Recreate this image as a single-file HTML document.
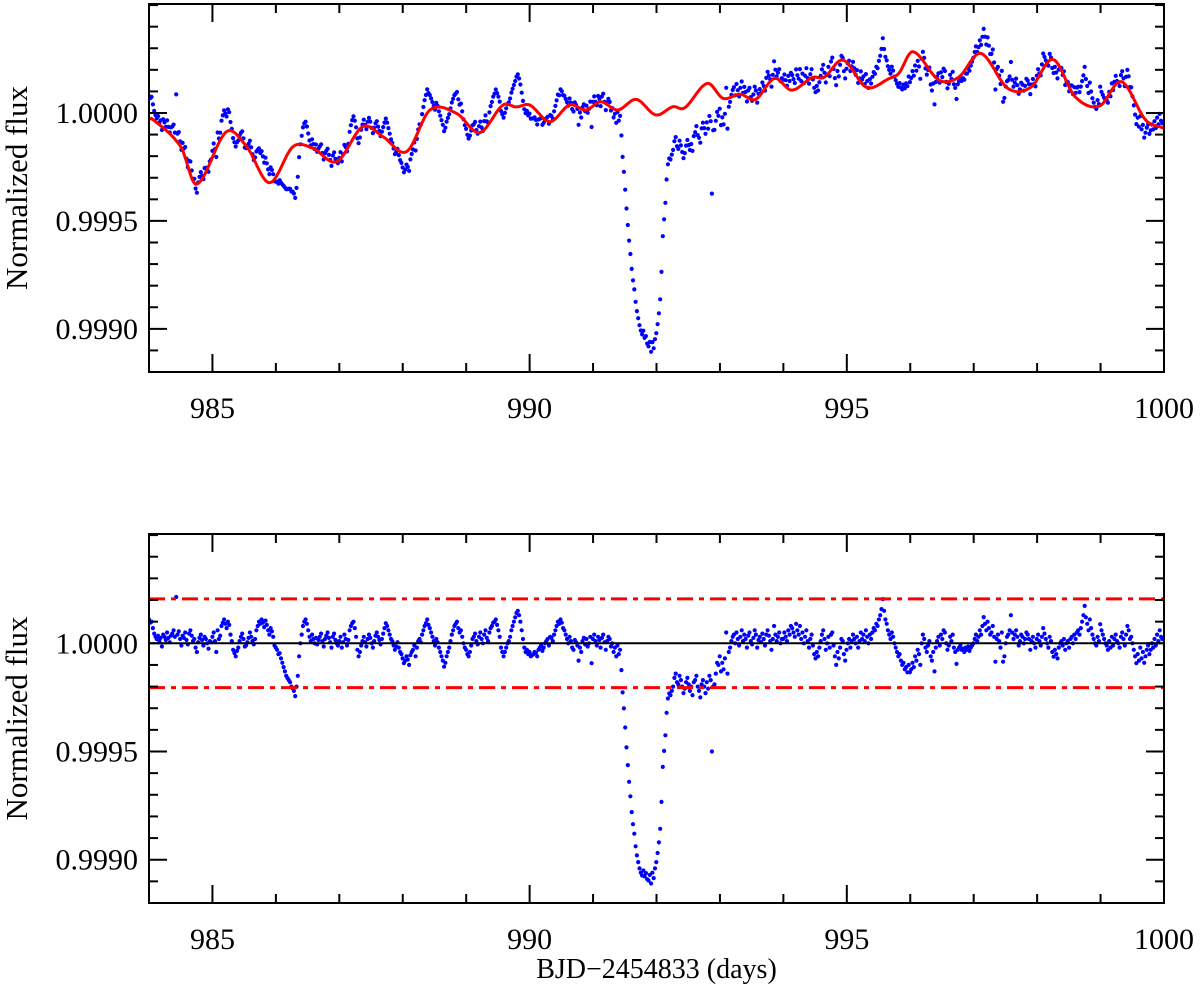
<!DOCTYPE html>
<html><head><meta charset="utf-8">
<style>
html,body{margin:0;padding:0;background:#fff;}
svg{display:block;}
text{font-family:"Liberation Serif",serif;fill:#000;}
</style></head>
<body>
<svg id="chart" width="1200" height="989" viewBox="0 0 1200 989" xmlns="http://www.w3.org/2000/svg">
<g id="top"></g>
<g id="bot"></g>
</svg>
<script>
// ---- data ----
const startDay = 984.0;
const cadence = 0.0204;
// residual flux in ppm (relative to 1.0), one value per cadence
const residualPpm = [
110,95,100,70,45,30,20,35,10,25,-15,40,30,15,50,25,5,35,45,60,30,214,40,55,20,-10,35,25,50,15,-5,45,60,35,10,20,-20,-40,5,25,40,15,-10,30,20,0,-25,10,5,
30,50,10,-40,60,20,35,80,95,110,90,70,100,85,40,10,-30,-45,-60,-35,-20,10,30,45,20,-15,-10,5,25,50,30,10,-5,20,60,80,100,90,110,95,75,105,85,60,40,70,55,30,-10,
-20,-30,-50,-46,-70,-90,-110,-130,-150,-161,-170,-180,-200,-207,-220,-244,-200,-150,-60,0,40,80,100,110,90,60,30,10,40,20,0,25,-5,15,30,45,10,-15,20,35,50,25,5,-20,30,45,15,0,-10,
10,30,-20,5,40,20,-10,15,60,80,93,100,70,30,-30,-60,-40,-10,10,30,5,-15,20,40,25,0,-20,10,35,50,30,15,-5,20,45,70,93,80,60,40,20,10,-10,-30,-15,5,-20,-40,-50,
-70,-92,-80,-60,-75,-100,-55,-40,-30,-10,-60,-20,10,20,5,40,60,80,93,110,85,70,50,30,10,-10,20,5,-20,-40,-60,-80,-108,-90,-60,-40,-20,10,40,60,80,90,100,70,50,60,30,0,-20,
-30,-50,-60,-40,-10,20,30,45,10,-5,30,50,20,0,40,60,25,10,50,70,80,95,100,110,85,60,30,-20,-40,-60,-40,-20,0,10,30,60,80,100,120,140,150,130,100,60,20,-20,-40,-30,-50,
-40,-60,-55,-50,-40,-45,-60,-30,-20,-10,-35,-20,0,10,20,-10,30,25,10,40,60,80,100,90,110,95,70,60,40,20,0,30,10,-20,-30,15,5,-10,-80,-20,-40,10,25,-5,20,-15,0,30,-92,
20,40,10,-10,30,15,-20,25,40,5,-30,10,30,20,-15,0,-40,-20,-60,-10,-50,-30,-124,-227,-301,-389,-481,-563,-640,-707,-780,-836,-880,-938,-980,-1011,-1040,-1060,-1073,-1050,-1077,-1062,-1090,-1096,-1070,-1110,-1060,-1085,-1040,
-1011,-969,-920,-857,-733,-571,-497,-425,-321,-255,-232,-240,-220,-200,-160,-140,-180,-190,-150,-170,-200,-230,-210,-180,-160,-190,-220,-200,-240,-180,-170,-150,-200,-220,-250,-190,-170,-200,-230,-180,-210,-150,-170,-500,-200,-190,-140,-90,-100,
-60,-130,-90,-120,-70,50,-140,-40,-20,10,30,40,0,50,20,-10,30,60,10,40,20,-20,35,50,10,-5,25,60,40,-20,15,30,5,45,20,-10,40,60,35,10,-30,20,80,40,10,30,50,0,20,
20,50,30,10,60,40,80,70,50,30,90,60,40,80,20,50,0,30,60,10,-20,20,40,-10,-50,-70,-40,-60,-20,10,40,60,20,-30,0,30,-20,40,50,-10,-60,-100,-40,-70,-20,20,10,-50,-80,
-30,0,20,-20,10,40,20,0,30,-20,10,50,20,40,10,60,30,0,40,20,50,70,60,90,80,110,130,158,204,150,110,90,60,40,20,50,30,0,-20,-40,-60,-50,-80,-100,-90,-120,-110,-134,-100,
-134,-120,-90,-110,-60,-80,-30,-50,-100,0,40,20,-20,-40,-10,10,-60,-80,-40,-130,-20,10,30,-10,40,20,60,50,0,-30,-10,30,10,40,-20,-40,-95,-30,-20,-10,-30,-25,-40,-20,-30,-15,-35,-20,-10,
0,20,40,10,30,60,40,80,121,90,60,100,70,40,50,80,30,-85,20,40,10,-20,50,-85,-60,0,30,40,60,130,50,20,40,60,30,-10,10,40,30,0,20,50,40,20,-30,10,30,0,-20,
20,40,10,-10,30,70,45,20,0,-20,30,10,-40,-62,-30,-50,-70,-20,0,10,-10,20,-30,0,10,-20,20,30,0,40,20,50,60,40,70,100,130,173,120,90,60,110,70,40,20,0,-10,30,10,
88,60,40,20,0,-10,-30,10,-20,30,-10,20,40,10,0,-20,30,50,20,-10,40,80,60,20,30,0,-30,-60,-92,-50,-80,-20,-70,-40,-90,-60,-30,-10,-50,-30,0,-20,20,-10,40,10,60,30,20
];
// stellar-variability model (red curve) knots
const modelDays = [984.0,984.04,984.5,984.75,985.22,985.54,985.9,986.27,986.58,986.96,987.37,987.69,988.06,988.43,988.85,989.21,989.58,989.79,990.0,990.32,990.63,990.89,991.12,991.39,991.68,991.99,992.26,992.44,992.8,993.05,993.32,993.56,993.86,994.13,994.46,994.64,994.94,995.31,995.67,995.82,996.04,996.45,996.76,997.11,997.54,997.9,998.25,998.6,998.98,999.33,999.71,1000.0];
const modelPpm = [-32,-25,-156,-330,-87,-156,-323,-156,-163,-225,-63,-110,-179,14,-2,-91,37,28,37,-40,37,14,52,14,63,-9,29,23,137,68,87,63,160,106,165,165,245,119,160,184,284,153,165,276,114,119,248,75,32,145,-32,-71];
const thresholdPpm = [205,-205];
const xTicksMajor = [985,990,995,1000];
const xTickLabels = ["985","990","995","1000"];
const yTicksMajor = [-1000,-500,0];
const yTickLabels = ["0.9990","0.9995","1.0000"];

// ---- layout ----
const NS="http://www.w3.org/2000/svg";
const X0=149,X1=1164,D0=984,D1=1000;
const P0=505,P1=-1200;
const panels=[{g:document.getElementById('top'),y0:4,y1:372,name:'top'},{g:document.getElementById('bot'),y0:534,y1:903,name:'bottom'}];
function xs(d){return X0+(d-D0)/(D1-D0)*(X1-X0);}
function mk(tag,attrs,parent){const e=document.createElementNS(NS,tag);for(const k in attrs)e.setAttribute(k,attrs[k]);parent.appendChild(e);return e;}
function modelAt(t){
  const n=modelDays.length;
  let i=0;while(i<n-2&&t>modelDays[i+1])i++;
  const x0=modelDays[i],x1=modelDays[i+1],y0=modelPpm[i],y1=modelPpm[i+1];
  const tan=j=>{const a=Math.max(0,j-1),b=Math.min(n-1,j+1);return (modelPpm[b]-modelPpm[a])/(modelDays[b]-modelDays[a]);};
  const h=x1-x0,s=(t-x0)/h,m0=tan(i)*h,m1=tan(i+1)*h;
  const s2=s*s,s3=s2*s;
  return (2*s3-3*s2+1)*y0+(s3-2*s2+s)*m0+(-2*s3+3*s2)*y1+(s3-s2)*m1;
}
const days=residualPpm.map((_,i)=>startDay+i*cadence);

panels.forEach((p,pi)=>{
  const ys=v=>p.y0+(P0-v)/(P0-P1)*(p.y1-p.y0);
  const g=p.g;
  const cp=mk('clipPath',{id:'clip'+pi},g);mk('rect',{x:X0,y:p.y0,width:X1-X0,height:p.y1-p.y0},cp);
  const plot=mk('g',{'clip-path':'url(#clip'+pi+')'},g);
  
  
  const pts=mk('g',{fill:'#0000ff'},plot);
  
  
  days.forEach((d,i)=>{
    const v=pi===0?modelAt(d)+residualPpm[i]:residualPpm[i];
    const c=mk('circle',{cx:xs(d).toFixed(1),cy:ys(v).toFixed(1),r:2.1},pts);
    
    
  });
  if(pi===0){
    let dstr='';
    for(let k=0;k<=800;k++){const t=D0+k*(D1-D0)/800;dstr+=(k?'L':'M')+xs(t).toFixed(1)+','+ys(modelAt(t)).toFixed(1);}
    const ml=mk('path',{d:dstr,fill:'none',stroke:'#ff0000','stroke-width':3},plot);
    
    
  } else {
    const zl=mk('line',{x1:X0,x2:X1,y1:ys(0),y2:ys(0),stroke:'#000','stroke-width':2},plot);
    
    
    thresholdPpm.forEach(v=>{
      const tl=mk('line',{x1:X0,x2:X1,y1:ys(v),y2:ys(v),stroke:'#ff0000','stroke-width':3,'stroke-dasharray':'16 6 5 6'},plot);
      
      
    });
  }
  const fr=mk('rect',{x:X0,y:p.y0,width:X1-X0,height:p.y1-p.y0,fill:'none',stroke:'#000','stroke-width':2},g);
  
  
  const tk=mk('g',{stroke:'#000','stroke-width':2},g);
  
  
  for(let d=D0+1;d<D1;d++){
    const L=xTicksMajor.includes(d)?18:9,x=xs(d);
    mk('line',{x1:x,x2:x,y1:p.y1,y2:p.y1-L},tk);
    mk('line',{x1:x,x2:x,y1:p.y0,y2:p.y0+L},tk);
  }
  for(let v=-1100;v<=500;v+=100){
    const L=yTicksMajor.includes(v)?18:9,y=ys(v);
    mk('line',{x1:X0,x2:X0+L,y1:y,y2:y},tk);
    mk('line',{x1:X1,x2:X1-L,y1:y,y2:y},tk);
  }
  xTicksMajor.forEach((d,i)=>{
    const t=mk('text',{x:xs(d),y:p.y1+46,'font-size':30,'text-anchor':'middle'},g);
    t.textContent=xTickLabels[i];
    
    
  });
  yTicksMajor.forEach((v,i)=>{
    const t=mk('text',{x:138,y:ys(v)+10,'font-size':30,'text-anchor':'end'},g);
    t.textContent=yTickLabels[i];
    
    
  });
  const cy=(p.y0+p.y1)/2;
  const yt=mk('text',{x:0,y:0,'font-size':31,'text-anchor':'middle',transform:'translate(27,'+cy+') rotate(-90)'},g);
  yt.textContent='Normalized flux';
  
  
});
const xt=mk('text',{x:(X0+X1)/2,y:978,'font-size':28,'text-anchor':'middle'},document.getElementById('bot'));
xt.textContent='BJD\u22122454833 (days)';


</script>
</body></html>
